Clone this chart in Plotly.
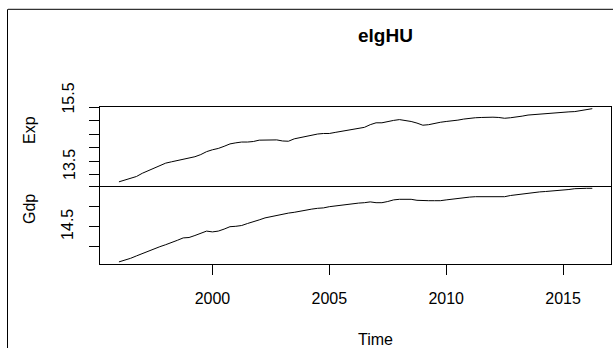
import plotly.graph_objects as go
from plotly.subplots import make_subplots

# ---- data (quarterly, 1996Q1 .. 2016Q2) ----
start_year = 1996.0
exp_values = [
    12.72, 12.78, 12.85, 12.92, 13.04, 13.14, 13.25, 13.33,
    13.42, 13.47, 13.52, 13.56, 13.60, 13.66, 13.74, 13.85,
    13.92, 13.97, 14.05, 14.14, 14.18, 14.21, 14.21, 14.23,
    14.28, 14.29, 14.29, 14.29, 14.25, 14.24, 14.33, 14.38,
    14.43, 14.47, 14.51, 14.53, 14.53, 14.57, 14.61, 14.64,
    14.67, 14.71, 14.76, 14.86, 14.93, 14.93, 14.98, 15.02,
    15.05, 15.02, 14.98, 14.92, 14.84, 14.86, 14.91, 14.95,
    14.98, 15.00, 15.03, 15.07, 15.10, 15.12, 15.13, 15.14,
    15.14, 15.13, 15.10, 15.12, 15.14, 15.18, 15.22, 15.24,
    15.26, 15.28, 15.30, 15.32, 15.33, 15.34, 15.35, 15.38,
    15.42, 15.46,
]
gdp_values = [
    13.62, 13.66, 13.71, 13.77, 13.83, 13.90, 13.95, 14.00,
    14.05, 14.10, 14.16, 14.22, 14.23, 14.28, 14.34, 14.39,
    14.37, 14.39, 14.44, 14.50, 14.51, 14.53, 14.58, 14.62,
    14.67, 14.72, 14.75, 14.79, 14.81, 14.84, 14.86, 14.89,
    14.91, 14.94, 14.96, 14.97, 15.00, 15.02, 15.04, 15.06,
    15.08, 15.09, 15.10, 15.12, 15.10, 15.10, 15.13, 15.17,
    15.185, 15.19, 15.185, 15.16, 15.15, 15.15, 15.15, 15.15,
    15.17, 15.19, 15.21, 15.23, 15.24, 15.25, 15.25, 15.25,
    15.25, 15.25, 15.25, 15.28, 15.30, 15.32, 15.33, 15.35,
    15.37, 15.38, 15.39, 15.40, 15.41, 15.43, 15.45, 15.46,
    15.46, 15.46,
]
time = [start_year + 0.25 * i for i in range(len(exp_values))]

x_tick_vals = [2000, 2005, 2010, 2015]
x_tick_text = ["2000", "2005", "2010", "2015"]
exp_tick_vals = [13.0, 13.5, 14.0, 14.5, 15.0, 15.5]
exp_label_vals = [15.5, 13.5]
exp_label_text = ["15.5", "13.5"]
gdp_tick_vals = [14.0, 14.5, 15.0, 15.5]
gdp_tick_text = ["", "14.5", "", ""]

title_text = "elgHU"
x_title = "Time"
series_names = ["Exp", "Gdp"]

# ---- figure ----
W, H = 613, 348
ML, MR, MT, MB = 100, 2, 107, 84
PW, PH = W - ML - MR, H - MT - MB
FONT = "Liberation Sans, Arial, sans-serif"


def px_x(px):
    return (px - ML) / PW


def px_y(py):
    return (H - MB - py) / PH


fig = make_subplots(rows=2, cols=1, shared_xaxes=True, vertical_spacing=0)
fig.add_trace(go.Scatter(x=time, y=exp_values, mode="lines", name=series_names[0],
                         line=dict(color="black", width=1)), row=1, col=1)
fig.add_trace(go.Scatter(x=time, y=gdp_values, mode="lines", name=series_names[1],
                         line=dict(color="black", width=1)), row=2, col=1)

split = px_y(185.7)
axis_common = dict(showline=True, linecolor="black", linewidth=1,
                   showgrid=False, zeroline=False, automargin=False)
fig.update_xaxes(range=[1995.19, 2017.05], **axis_common)
fig.update_xaxes(showticklabels=False, ticks="", mirror=True, row=1, col=1)
fig.update_xaxes(tickvals=x_tick_vals, ticktext=x_tick_text, ticks="outside", mirror=False,
                 ticklen=10, tickcolor="black", tickfont=dict(size=16, color="black", family=FONT),
                 ticklabelstandoff=10, row=2, col=1)
fig.update_yaxes(domain=[split, 1.0], range=[12.575, 15.522], tickvals=exp_tick_vals,
                 showticklabels=False, ticks="outside", ticklen=10, tickcolor="black",
                 mirror=True, row=1, col=1, **axis_common)
fig.update_yaxes(domain=[0.0, split], range=[13.5675, 15.525], tickvals=gdp_tick_vals,
                 ticktext=gdp_tick_text, ticks="outside", ticklen=10, tickcolor="black",
                 tickangle=-90, tickfont=dict(size=16, color="black", family=FONT),
                 ticklabelstandoff=10, mirror=True, row=2, col=1, **axis_common)

TXT = dict(showarrow=False, xanchor="center", yanchor="middle")
annotations = []
# exp tick labels (drawn slightly offset, as in the reference rendering)
label_shifts = [9, -4]
for v, t, s in zip(exp_label_vals, exp_label_text, label_shifts):
    annotations.append(dict(text=t, x=px_x(69), xref="paper", y=v, yref="y", yshift=s,
                            textangle=-90, font=dict(size=16, color="black", family=FONT), **TXT))
annotations += [
    dict(text="<b>" + title_text + "</b>", x=px_x(385), y=px_y(35), xref="paper", yref="paper",
         font=dict(size=19, color="black", family=FONT), **TXT),
    dict(text=x_title, x=px_x(375), y=px_y(339), xref="paper", yref="paper",
         font=dict(size=16, color="black", family=FONT), **TXT),
    dict(text=series_names[0], x=px_x(29), y=px_y(130), xref="paper", yref="paper",
         textangle=-90, font=dict(size=16, color="black", family=FONT), **TXT),
    dict(text=series_names[1], x=px_x(29), y=px_y(209), xref="paper", yref="paper",
         textangle=-90, font=dict(size=16, color="black", family=FONT), **TXT),
]

shapes = [
    dict(type="line", xref="paper", yref="paper", x0=px_x(8), x1=px_x(620),
         y0=px_y(9.3), y1=px_y(9.3), line=dict(color="black", width=1)),
    dict(type="line", xref="paper", yref="paper", x0=px_x(7.5), x1=px_x(7.5),
         y0=px_y(9.3), y1=px_y(360), line=dict(color="black", width=1)),
]

fig.update_layout(width=W, height=H, margin=dict(l=ML, r=MR, t=MT, b=MB),
                  paper_bgcolor="white", plot_bgcolor="white", showlegend=False,
                  font=dict(family=FONT, color="black", size=16),
                  annotations=annotations, shapes=shapes)

fig.write_html("out.html", config={"displayModeBar": False},
               post_script="document.body.style.margin='0';document.body.style.overflow='hidden';")
